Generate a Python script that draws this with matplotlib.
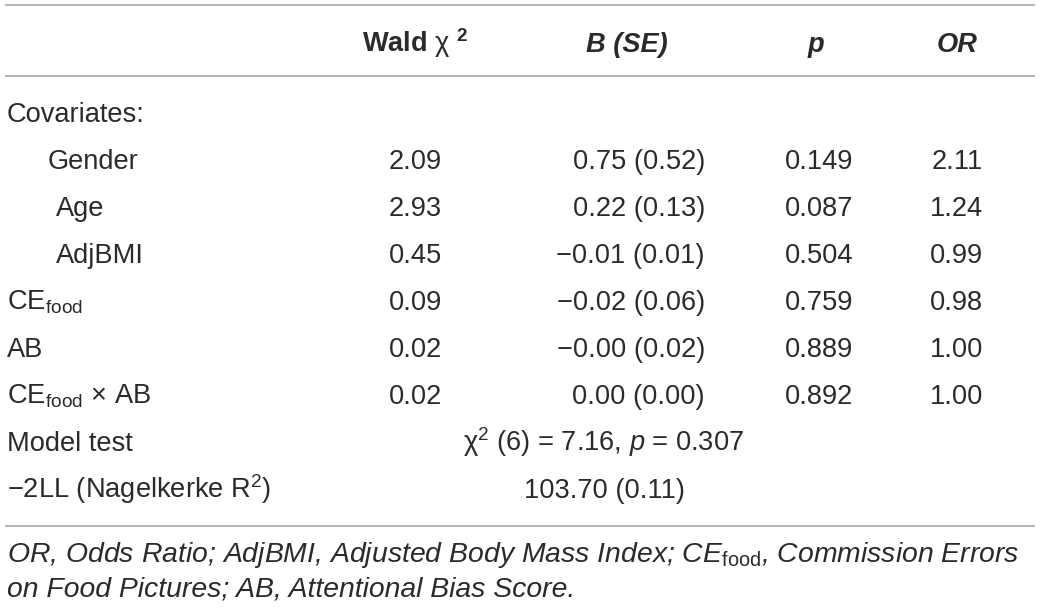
import matplotlib
matplotlib.use("Agg")
import matplotlib.pyplot as plt

plt.rcParams['font.family'] = ['Liberation Sans', 'DejaVu Sans']
plt.rcParams['mathtext.fontset'] = 'custom'
plt.rcParams['mathtext.rm'] = 'Liberation Sans'
plt.rcParams['mathtext.it'] = 'Liberation Sans:italic'
plt.rcParams['mathtext.bf'] = 'Liberation Sans:bold'
plt.rcParams['mathtext.default'] = 'regular'

# table content
headers = [r'Wald $\mathrm{χ}$ $^{2}$', 'B (SE)', 'p', 'OR']
row_labels = ['Covariates:', 'Gender', 'Age', 'AdjBMI', r'CE$_{\mathrm{food}}$', 'AB',
              r'CE$_{\mathrm{food}}$ × AB']
wald = [2.09, 2.93, 0.45, 0.09, 0.02, 0.02]
b = [0.75, 0.22, -0.01, -0.02, -0.0, 0.00]
se = [0.52, 0.13, 0.01, 0.06, 0.02, 0.00]
pval = [0.149, 0.087, 0.504, 0.759, 0.889, 0.892]
odds = [2.11, 1.24, 0.99, 0.98, 1.00, 1.00]
model_df, model_chi2, model_p = 6, 7.16, 0.307
ll2, nagelkerke = 103.70, 0.11
footnote = [r'OR, Odds Ratio; AdjBMI, Adjusted Body Mass Index; CE$_{\mathrm{food}}$, Commission Errors',
            'on Food Pictures; AB, Attentional Bias Score.']

# styling
fs = 19.6
fs_note = 20.4
txt = '#2a2a2a'
rule = '#a0a0a0'
indent = {1: 41, 2: 49, 3: 49}
col_right = [442, 705, 853, 983]
col_head = [415, 627, 816, 957]
y0, dy = 122, 47.0


def num(v, fmt):
    return format(v, fmt).replace('-', '\u2212')


fig = plt.figure(figsize=(10.4, 6.1), dpi=100)
ax = fig.add_axes([0, 0, 1, 1])
ax.set_xlim(0, 1040)
ax.set_ylim(610, 0)
ax.axis('off')

for yy in (5, 76, 526):
    ax.plot([5, 1035], [yy, yy], color=rule, lw=1.1, solid_capstyle='butt')

# header
ax.text(col_head[0], 52, headers[0], ha='center', va='baseline', fontsize=fs,
        fontweight='bold', color=txt)
for i in range(1, 4):
    ax.text(col_head[i], 52, headers[i], ha='center', va='baseline', fontsize=fs,
            fontweight='bold', fontstyle='italic', color=txt)

# rows
for i, lab in enumerate(row_labels):
    ax.text(7 + indent.get(i, 0), y0 + i * dy, lab, ha='left', va='baseline',
            fontsize=fs, color=txt)

for j in range(len(wald)):
    y = y0 + (j + 1) * dy
    cells = [num(wald[j], '.2f'),
             num(b[j], '.2f') + ' (' + num(se[j], '.2f') + ')',
             num(pval[j], '.3f'),
             num(odds[j], '.2f')]
    for c, s in enumerate(cells):
        ax.text(col_right[c], y, s, ha='right', va='baseline', fontsize=fs, color=txt)

# model rows
y = y0 + 7 * dy
ax.text(7, y, 'Model test', ha='left', va='baseline', fontsize=fs, color=txt)
ax.text(604, y, 'χ$^{2}$ (%d) = %.2f, $\\mathit{p}$ = %.3f' % (model_df, model_chi2, model_p),
        ha='center', va='baseline', fontsize=fs, color=txt)
y = y0 + 8 * dy
ax.text(7, y, '\u22122LL (Nagelkerke R$^{2}$)', ha='left', va='baseline', fontsize=fs, color=txt)
ax.text(605, y, '%.2f (%.2f)' % (ll2, nagelkerke), ha='center', va='baseline',
        fontsize=fs, color=txt)

# footnote
for k, line in enumerate(footnote):
    ax.text(7, 562 + k * 35, line, ha='left', va='baseline', fontsize=fs_note,
            fontstyle='italic', color=txt)

fig.savefig('out.png', dpi=100, facecolor='white')
